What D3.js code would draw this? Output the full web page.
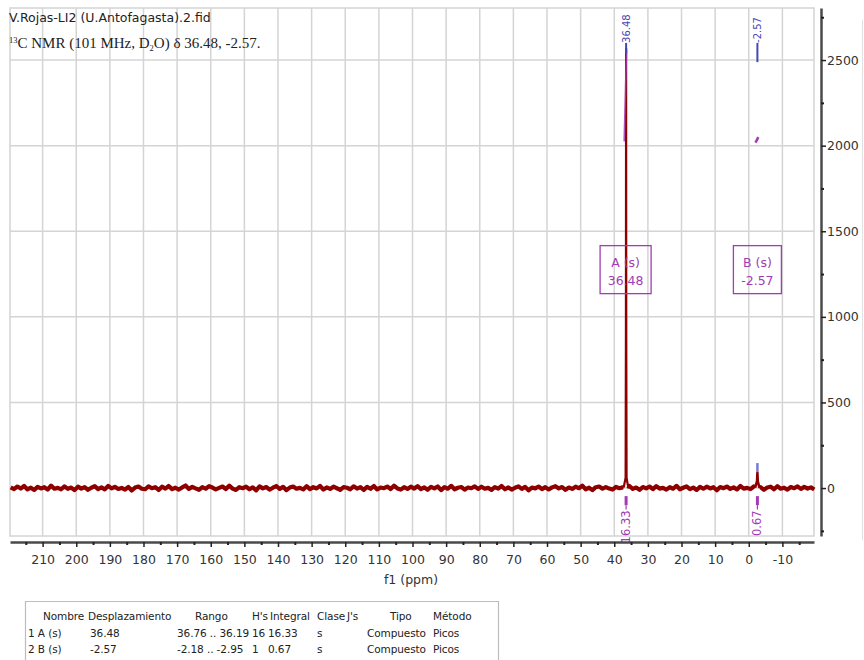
<!DOCTYPE html>
<html>
<head>
<meta charset="utf-8">
<script src="https://cdn.jsdelivr.net/npm/d3@7"></script>
<style>
  body { margin: 0; background: #fff; }
  svg { display: block; }
</style>
</head>
<body>
<svg id="chart" width="864" height="660"></svg>
<script>
// ---------------- DATA ----------------
const xTickValues = [210, 200, 190, 180, 170, 160, 150, 140, 130, 120, 110, 100, 90, 80, 70, 60, 50, 40, 30, 20, 10, 0, -10];
const xMinorValues = [215, 205, 195, 185, 175, 165, 155, 145, 135, 125, 115, 105, 95, 85, 75, 65, 55, 45, 35, 25, 15, 5, -5, -15];
const yTickValues = [0, 500, 1000, 1500, 2000, 2500];
const yMinorValues = [-250, 250, 750, 1250, 1750, 2250, 2750];

// baseline noise, one value per ppm from 219.5 down to -19.5
const noiseStartPpm = 219.5;
const noiseValues = [
  4,-6,9,-3,12,-8,2,-11,7,-2,5,-9,14,-4,1,-7,10,-5,3,-12,
  8,-3,6,-10,2,11,-6,4,-8,13,-2,7,-5,1,-9,6,-14,3,9,-4,
  -7,10,-1,5,-11,8,-3,12,-6,2,-9,4,15,-5,7,-2,-10,6,-4,11,
  3,-8,1,9,-6,14,-3,-11,5,-1,8,-7,4,-13,10,-2,6,-9,2,12,
  -5,7,-12,3,9,-4,1,-8,11,-6,5,-2,13,-9,4,-5,8,-1,-10,6,
  2,-7,10,-3,5,-11,7,-4,12,-8,3,-1,9,-6,14,-2,-9,5,-5,8,
  -3,11,-6,4,-10,7,-2,9,-12,5,-4,13,-7,2,6,-9,3,-1,10,-5,
  8,-4,1,-11,6,-3,12,-7,4,-9,2,10,-5,7,-13,3,-2,9,-6,5,
  -8,4,11,-2,6,-10,3,-5,8,-1,14,-7,2,-12,5,9,-4,6,-3,-9,
  7,-1,4,-8,12,-5,3,-10,6,-2,9,-6,11,-3,1,-9,5,-4,13,-7,
  2,10,-6,3,-11,7,-4,8,-2,5,-13,6,-1,9,-5,4,-8,12,-3,1,
  -6,9,-2,5,-10,3,8,-7,11,-4,2,-9,6,-1,10,-5,7,-3,4,-8
];

// peaks
const peakAPpm = [37.2, 36.62, 36.53, 36.48, 36.43, 36.34, 35.8];
const peakAVal = [3, 60, 900, 2570, 900, 60, -2];
const peakBPpm = [-1.9, -2.45, -2.57, -2.69, -3.2];
const peakBVal = [2, 40, 93, 40, 1];

// peak labels (top)
const peakLabels = ["36.48", "-2.57"];
const peakLabelPpm = [36.48, -2.57];

// multiplet boxes
const multipletNames = ["A (s)", "B (s)"];
const multipletShifts = ["36.48", "-2.57"];
const multipletPpm = [36.48, -2.57];

// integrals
const integralLabels = ["16.33", "0.67"];
const integralPpm = [36.48, -2.57];
const integralACurvePpm = [37.05, 36.35];
const integralACurveVal = [2025, 2560];
const integralBCurvePpm = [-2.0, -2.85];
const integralBCurveVal = [2018, 2050];

// table
const tableHeader = ["Nombre", "Desplazamiento", "Rango", "H's", "Integral", "Clase", "J's", "Tipo", "Método"];
const tableRows = [
  ["1 A (s)", "36.48", "36.76 .. 36.19", "16", "16.33", "s", "", "Compuesto", "Picos"],
  ["2 B (s)", "-2.57", "-2.18 .. -2.95", "1", "0.67", "s", "", "Compuesto", "Picos"]
];

// ---------------- DRAW ----------------
const svg = d3.select("#chart");
const x = d3.scaleLinear().domain([219.7, -19.4]).range([10, 814]);
const y = d3.scaleLinear().domain([-280, 2804]).range([536, 8]);

const red = "#8e0000", blue = "#4646b4", purple = "#a23cb4", gridC = "#d4d4d4", axC = "#4a4a4a";

// grid
const g = svg.append("g");
g.selectAll("line.vg").data(xTickValues).join("line")
  .attr("x1", d => x(d)).attr("x2", d => x(d)).attr("y1", y.range()[1]).attr("y2", y.range()[0])
  .attr("stroke", gridC).attr("stroke-width", 1.5);
g.selectAll("line.hg").data(yTickValues).join("line")
  .attr("x1", x.range()[0]).attr("x2", x.range()[1]).attr("y1", d => y(d)).attr("y2", d => y(d))
  .attr("stroke", gridC).attr("stroke-width", 1.5);
g.append("rect").attr("x", x.range()[0]).attr("y", y.range()[1])
  .attr("width", x.range()[1] - x.range()[0]).attr("height", y.range()[0] - y.range()[1])
  .attr("fill", "none").attr("stroke", gridC).attr("stroke-width", 1.5);

// right panel border
svg.append("line").attr("x1", 862.5).attr("x2", 862.5).attr("y1", 20).attr("y2", 540)
  .attr("stroke", "#e2e2e2").attr("stroke-width", 1);

// titles
svg.append("text").attr("x", 9).attr("y", 22)
  .attr("font-family", "DejaVu Sans").attr("font-size", 12.5).attr("fill", "#222")
  .text("V.Rojas-LI2 (U.Antofagasta).2.fid");
const t2 = svg.append("text").attr("x", 9).attr("y", 48)
  .attr("font-family", "Liberation Serif").attr("font-size", 15).attr("fill", "#222");
t2.append("tspan").attr("font-size", 8.5).attr("dy", -5).text("13");
t2.append("tspan").attr("dy", 5).text("C NMR (101 MHz, D");
t2.append("tspan").attr("font-size", 8.5).attr("dy", 3).text("2");
t2.append("tspan").attr("dy", -3).text("O) δ 36.48, -2.57.");

// spectrum: noisy baseline segments + peaks
const noisePts = noiseValues.map((v, i) => ({ ppm: noiseStartPpm - i, v }));
const line = d3.line().x(d => x(d.ppm)).y(d => y(d.v));
const segs = [
  noisePts.filter(d => d.ppm >= 37.2).concat([{ ppm: peakAPpm[0], v: peakAVal[0] }]),
  [{ ppm: peakAPpm[peakAPpm.length - 1], v: peakAVal[peakAVal.length - 1] }]
    .concat(noisePts.filter(d => d.ppm < 35.8 && d.ppm > -1.9))
    .concat([{ ppm: peakBPpm[0], v: peakBVal[0] }]),
  [{ ppm: peakBPpm[peakBPpm.length - 1], v: peakBVal[peakBVal.length - 1] }]
    .concat(noisePts.filter(d => d.ppm <= -3.2))
];
svg.append("g").selectAll("path").data(segs).join("path").attr("d", line)
  .attr("fill", "none").attr("stroke", red).attr("stroke-width", 4.2).attr("stroke-linejoin", "round");
svg.append("path").datum(peakAPpm.map((p, i) => ({ ppm: p, v: peakAVal[i] }))).attr("d", line)
  .attr("fill", "none").attr("stroke", red).attr("stroke-width", 2.2);
svg.append("path").datum(peakBPpm.map((p, i) => ({ ppm: p, v: peakBVal[i] }))).attr("d", line)
  .attr("fill", "none").attr("stroke", red).attr("stroke-width", 2.5);

// integral curves
const intLine = d3.line().x(d => x(d[0])).y(d => y(d[1]));
svg.append("path").datum(integralACurvePpm.map((p, i) => [p, integralACurveVal[i]])).attr("d", intLine)
  .attr("fill", "none").attr("stroke", purple).attr("stroke-width", 1.6).attr("opacity", 0.85);
svg.append("path").datum(integralBCurvePpm.map((p, i) => [p, integralBCurveVal[i]])).attr("d", intLine)
  .attr("fill", "none").attr("stroke", purple).attr("stroke-width", 2.5);

// peak labels top
peakLabels.forEach((lab, i) => {
  const px = x(peakLabelPpm[i]);
  svg.append("text").attr("transform", `translate(${px + 3.5},${y(2600)}) rotate(-90)`)
    .attr("font-family", "DejaVu Sans").attr("font-size", 10).attr("fill", blue).text(lab);
});
// connectors
svg.append("line").attr("x1", x(36.48)).attr("x2", x(36.48)).attr("y1", y(2600)).attr("y2", y(2540))
  .attr("stroke", blue).attr("stroke-width", 2);
svg.append("line").attr("x1", x(-2.57)).attr("x2", x(-2.57)).attr("y1", y(2600)).attr("y2", y(2488))
  .attr("stroke", blue).attr("stroke-width", 2);
svg.append("line").attr("x1", x(-2.57)).attr("x2", x(-2.57)).attr("y1", y(146)).attr("y2", y(93))
  .attr("stroke", "#7a7ad0").attr("stroke-width", 2.5);

// multiplet boxes
multipletNames.forEach((nm, i) => {
  const cx = x(multipletPpm[i]);
  const w = i === 0 ? 51 : 48;
  const left = i === 0 ? cx - 26 : cx - 24;
  svg.append("rect").attr("x", left).attr("y", y(1416)).attr("width", w).attr("height", 48)
    .attr("fill", "none").attr("stroke", purple).attr("stroke-width", 1.3);
  svg.append("text").attr("x", left + w / 2).attr("y", y(1416) + 21).attr("text-anchor", "middle")
    .attr("font-family", "DejaVu Sans").attr("font-size", 12.5).attr("fill", purple).text(nm);
  svg.append("text").attr("x", left + w / 2).attr("y", y(1416) + 39).attr("text-anchor", "middle")
    .attr("font-family", "DejaVu Sans").attr("font-size", 12.5).attr("fill", purple).text(multipletShifts[i]);
});

// integral labels below
integralLabels.forEach((lab, i) => {
  const px = x(integralPpm[i]);
  svg.append("line").attr("x1", px).attr("x2", px).attr("y1", y(-47)).attr("y2", y(-100))
    .attr("stroke", purple).attr("stroke-width", 3);
  svg.append("line").attr("x1", px).attr("x2", px).attr("y1", y(-100)).attr("y2", y(-125))
    .attr("stroke", purple).attr("stroke-width", 1.2);
  svg.append("text").attr("transform", `translate(${px + 3.5},${y(-125) + 1}) rotate(-90)`)
    .attr("text-anchor", "end")
    .attr("font-family", "DejaVu Sans").attr("font-size", 11.5).attr("fill", purple).text(lab);
});

// x axis
const fmt = d => String(d);
const xAxisG = svg.append("g").attr("transform", "translate(0,542)")
  .call(d3.axisBottom(x).tickValues(xTickValues).tickSize(5).tickSizeOuter(0).tickPadding(8).tickFormat(fmt));
xAxisG.select(".domain").attr("stroke", axC).attr("stroke-width", 2.5);
xAxisG.selectAll(".tick line").attr("stroke", "#222").attr("stroke-width", 1.5);
xAxisG.selectAll(".tick text").attr("font-family", "DejaVu Sans").attr("font-size", 12.5).attr("fill", "#333");
const xMinorG = svg.append("g").attr("transform", "translate(0,542)")
  .call(d3.axisBottom(x).tickValues(xMinorValues).tickSize(3).tickSizeOuter(0).tickFormat(""));
xMinorG.select(".domain").remove();
xMinorG.selectAll(".tick line").attr("stroke", "#222").attr("stroke-width", 2);
svg.append("text").attr("x", 411).attr("y", 584).attr("text-anchor", "middle")
  .attr("font-family", "DejaVu Sans").attr("font-size", 12.5).attr("fill", "#333").text("f1 (ppm)");

// y axis
const yAxisG = svg.append("g").attr("transform", "translate(821,0)")
  .call(d3.axisRight(y).tickValues(yTickValues).tickSize(5).tickSizeOuter(0).tickPadding(1).tickFormat(fmt));
yAxisG.select(".domain").attr("stroke", axC).attr("stroke-width", 2.5);
yAxisG.selectAll(".tick line").attr("stroke", "#222").attr("stroke-width", 1.5);
yAxisG.selectAll(".tick text").attr("font-family", "DejaVu Sans").attr("font-size", 12.5).attr("fill", "#333");
const yMinorG = svg.append("g").attr("transform", "translate(821,0)")
  .call(d3.axisRight(y).tickValues(yMinorValues).tickSize(3).tickSizeOuter(0).tickFormat(""));
yMinorG.select(".domain").remove();
yMinorG.selectAll(".tick line").attr("stroke", "#222").attr("stroke-width", 2);

// table
const colX = [43, 88, 195, 252, 270, 317, 347, 390, 433];
const rowColX = [28, 90, 177, 252, 268, 317, 347, 367, 433];
svg.append("path").attr("d", "M25.5,662 V601.5 H498.5 V662")
  .attr("fill", "none").attr("stroke", "#bdbdbd").attr("stroke-width", 1.2);
svg.append("g").selectAll("text").data(tableHeader).join("text")
  .attr("x", (d, i) => colX[i]).attr("y", 620)
  .attr("font-family", "DejaVu Sans").attr("font-size", 10.5).attr("fill", "#222")
  .attr("letter-spacing", -0.1)
  .text(d => d);
tableRows.forEach((row, r) => {
  svg.append("g").selectAll("text").data(row).join("text")
    .attr("x", (d, i) => rowColX[i]).attr("y", 637 + r * 16)
    .attr("font-family", "DejaVu Sans").attr("font-size", 10.5).attr("fill", "#222")
    .attr("letter-spacing", -0.1)
    .text(d => d);
});
</script>
</body>
</html>
